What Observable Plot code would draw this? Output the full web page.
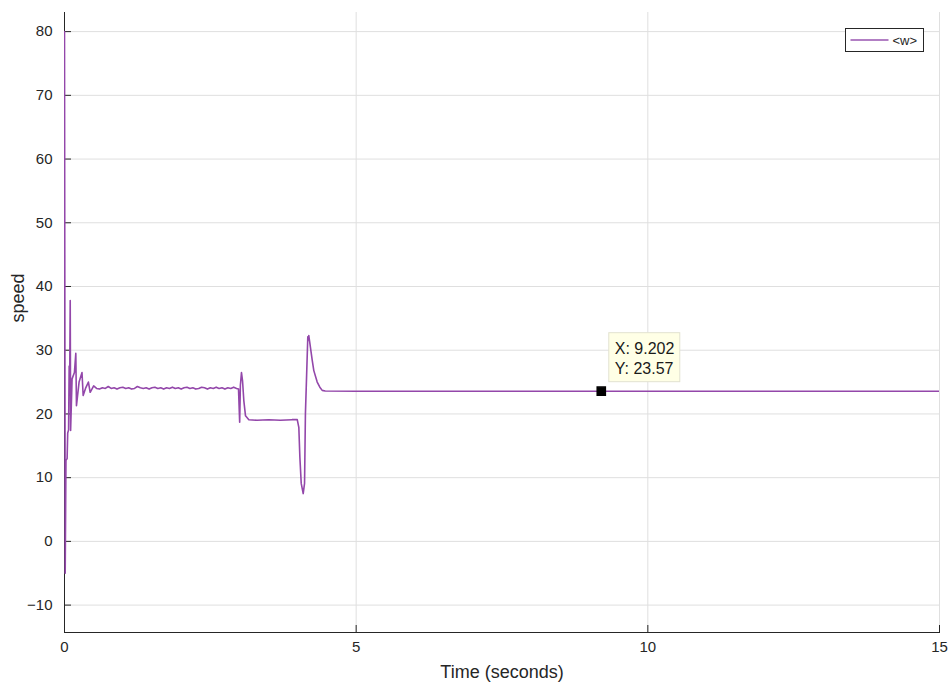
<!DOCTYPE html>
<html>
<head>
<meta charset="utf-8">
<script src="https://cdn.jsdelivr.net/npm/d3@7"></script>
<script src="https://cdn.jsdelivr.net/npm/@observablehq/plot@0.6"></script>
<style>
  html, body { margin: 0; padding: 0; background: #fff; }
  #chart { width: 951px; height: 688px; }
  svg { font-family: "Liberation Sans", Arial, Helvetica, sans-serif; }
</style>
</head>
<body>
<div id="chart"></div>
<script>
// Simulated rotor speed <w> (scope output), time in seconds
const time = [
  0, 0.012, 0.025, 0.045, 0.055, 0.07, 0.08, 0.09, 0.098, 0.105, 0.13, 0.17,
  0.194, 0.205, 0.25, 0.30, 0.32, 0.36, 0.41, 0.44, 0.50,
  0.55, 0.6, 0.65, 0.7, 0.75, 0.8, 0.85, 0.9, 0.95, 1.0, 1.05, 1.1, 1.15, 1.2,
  1.25, 1.3, 1.35, 1.4, 1.45, 1.5, 1.55, 1.6, 1.65, 1.7, 1.75, 1.8, 1.85, 1.9, 1.95,
  2.0, 2.05, 2.1, 2.15, 2.2, 2.25, 2.3, 2.35, 2.4, 2.45, 2.5, 2.55, 2.6, 2.65, 2.7,
  2.75, 2.8, 2.85, 2.9, 2.95, 2.983,
  3.003, 3.015, 3.034, 3.052, 3.074, 3.103, 3.16, 3.3, 3.5, 3.7, 3.9, 3.99,
  4.017, 4.035, 4.058, 4.092, 4.115, 4.13, 4.171, 4.18, 4.188, 4.2, 4.247, 4.274,
  4.332, 4.377, 4.418, 4.47, 5, 9.202, 15
];
const speed = [
  80, -5, 12.7, 13, 17, 17.5, 27.5, 27, 37.8, 17.4, 25.5, 26.5,
  29.5, 21.3, 25.0, 26.5, 22.9, 24.0, 25.0, 23.4, 24.4,
  24.0, 23.9, 24.1, 24.0, 24.3, 24.0, 24.1, 23.9, 24.1, 24.2, 24.0, 24.1, 23.9, 24.0,
  24.3, 24.1, 24.0, 24.1, 23.9, 24.1, 24.2, 24.0, 24.1, 23.9, 24.1, 24.0, 24.2, 24.0, 24.1,
  23.9, 24.1, 24.2, 24.0, 24.1, 23.9, 24.0, 24.2, 24.1, 23.9, 24.1, 24.0, 24.2, 24.0, 24.1,
  23.9, 24.1, 24.0, 24.2, 24.0, 23.9,
  18.7, 24.5, 26.5, 25.2, 22.1, 19.7, 19.1, 19.0, 19.1, 19.0, 19.1, 19.1,
  17.9, 13.2, 9.1, 7.5, 9.1, 20, 32.1, 31.6, 32.3, 31.5, 28.4, 26.8,
  25.0, 24.2, 23.7, 23.6, 23.57, 23.57, 23.57
];
const series = time.map((t, i) => ({t, w: speed[i]}));

const xTicks = [0, 5, 10, 15];
const yTicks = [-10, 0, 10, 20, 30, 40, 50, 60, 70, 80];
const seriesName = "<w>";
const cursor = {t: 9.202, w: 23.57};

const axisColor = "#262626";
const gridColor = "#dfdfdf";
const lineColor = "#9347aa";

const chart = Plot.plot({
  width: 951,
  height: 688,
  marginLeft: 64,
  marginRight: 12,
  marginTop: 12,
  marginBottom: 56,
  style: {fontSize: "15px", color: axisColor, background: "#fff"},
  x: {domain: [0, 15], ticks: xTicks},
  y: {domain: [-14.3, 83], ticks: yTicks},
  marks: [
    Plot.ruleY(yTicks, {stroke: gridColor, strokeWidth: 1}),
    Plot.ruleX(xTicks.slice(1), {stroke: gridColor, strokeWidth: 1}),
    Plot.frame({anchor: "left", stroke: axisColor}),
    Plot.frame({anchor: "bottom", stroke: axisColor}),
    Plot.axisY(yTicks, {tickSize: -7, tickPadding: 19, label: null, stroke: axisColor, fill: axisColor}),
    Plot.axisX(xTicks, {tickSize: -7, tickPadding: 16, label: null, stroke: axisColor, fill: axisColor}),
    Plot.line(series, {x: "t", y: "w", stroke: lineColor, strokeWidth: 1.6, curve: "linear", clip: true}),
    Plot.dot([cursor], {x: "t", y: "w", symbol: "square", fill: "#000", stroke: "#000", r: 4.6}),
    Plot.text(["Time (seconds)"], {frameAnchor: "bottom", dy: 45, fontSize: 18, fill: axisColor}),
    Plot.text(["speed"], {frameAnchor: "left", dx: -46, rotate: -90, fontSize: 18, fill: axisColor})
  ]
});

document.getElementById("chart").appendChild(chart);

// Data cursor readout next to the marker, placed through the plot's scales
const svg = d3.select(chart);
const sx = chart.scale("x"), sy = chart.scale("y");
const px = sx.apply(cursor.t), py = sy.apply(cursor.w);
const tip = svg.append("g").attr("transform", `translate(${px + 8},${py - 58})`)
  .attr("text-anchor", "start");
tip.append("rect").attr("width", 71).attr("height", 49)
  .attr("fill", "#ffffe6").attr("stroke", "#e2e2d0");
tip.append("text").attr("x", 6).attr("y", 21).attr("font-size", 16).attr("fill", "#1a1a1a")
  .text(`X: ${cursor.t}`);
tip.append("text").attr("x", 6).attr("y", 41).attr("font-size", 16).attr("fill", "#1a1a1a")
  .text(`Y: ${cursor.w}`);

// Legend box in the upper-right corner of the axes
const legend = svg.append("g").attr("transform", "translate(845.5,28.5)")
  .attr("text-anchor", "start");
legend.append("rect").attr("width", 78).attr("height", 23)
  .attr("fill", "#fff").attr("stroke", axisColor);
legend.append("line").attr("x1", 5).attr("x2", 43).attr("y1", 11.5).attr("y2", 11.5)
  .attr("stroke", "#b27fc4").attr("stroke-width", 2);
legend.append("text").attr("x", 47).attr("y", 16).attr("font-size", 13).attr("fill", axisColor)
  .text(seriesName);
</script>
</body>
</html>
